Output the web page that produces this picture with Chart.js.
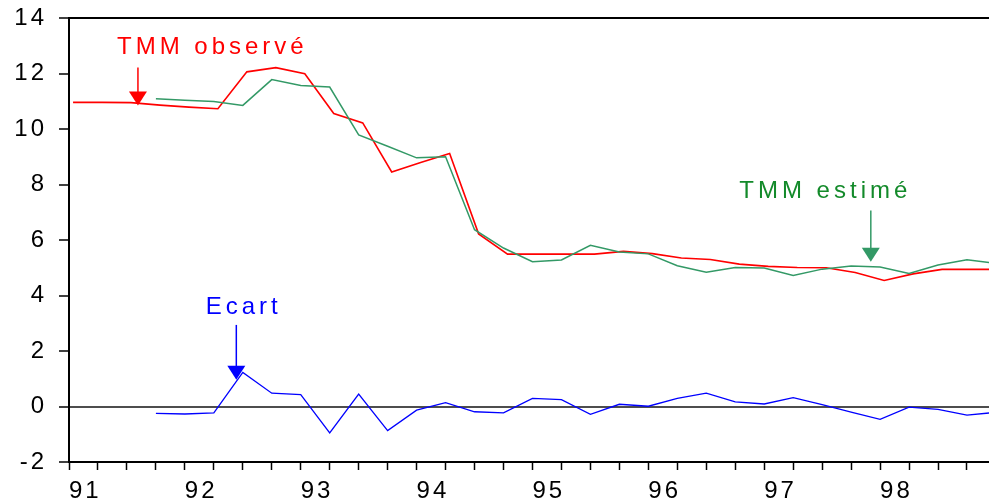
<!DOCTYPE html>
<html>
<head>
<meta charset="utf-8">
<script src="https://cdn.jsdelivr.net/npm/chart.js@4/dist/chart.umd.min.js"></script>
<style>
  html, body { margin: 0; padding: 0; background: #fff; }
</style>
</head>
<body>
<canvas id="chart" width="989" height="504"></canvas>
<script>
// Quarterly series, first quarter = 91 Q1
const firstYear = 91;
const observedLag = 0.035;   // observed rate plotted slightly after the quarter mark
const estimStart = 3;        // estimated series starts at 91 Q4

const tmmObserve = [10.96, 10.96, 10.95, 10.86, 10.79, 10.73, 12.06, 12.21, 11.99, 10.56, 10.22,
    8.45, 8.79, 9.12, 6.22, 5.49, 5.49, 5.49, 5.49, 5.59, 5.51, 5.35, 5.30, 5.13, 5.05,
    5.01, 5.00, 4.83, 4.54, 4.78, 4.94, 4.94, 4.94];
const tmmEstime = [11.09, 11.04, 10.99, 10.85, 11.78, 11.57, 11.51, 9.79, 9.38, 8.96, 9.00,
    6.37, 5.71, 5.22, 5.28, 5.81, 5.57, 5.50, 5.07, 4.84, 5.01, 4.99, 4.72, 4.95, 5.06,
    5.03, 4.79, 5.10, 5.29, 5.16];
const ecart = [-0.25, -0.27, -0.23, 1.23, 0.48, 0.43, -0.95, 0.45, -0.87, -0.13, 0.14,
    -0.19, -0.23, 0.29, 0.25, -0.28, 0.08, 0.01, 0.29, 0.48, 0.17, 0.09, 0.32, 0.07, -0.20,
    -0.46, -0.02, -0.10, -0.31, -0.21];
const yTicks = [-2, 0, 2, 4, 6, 8, 10, 12, 14];

const FONT = 'Liberation Sans, Arial, sans-serif';

const toPoints = (values, start, lag) =>
    values.map((v, i) => ({ x: firstYear + (start + i) / 4 + lag, y: v }));

// Labels with arrows (data units)
const notes = [
    { text: 'TMM observé', color: '#ff0000', arrow: '#ff0000', tx: 92.22, ty: 12.94, ax: 91.595, from: 12.22, to: 10.85 },
    { text: 'TMM estimé', color: '#138a2a', arrow: '#339966', tx: 97.51, ty: 7.74, ax: 97.92, from: 7.06, to: 5.22 },
    { text: 'Ecart', color: '#0000ff', arrow: '#0000ff', tx: 92.49, ty: 3.56, ax: 92.444, from: 2.94, to: 0.96 }
];

const spacingPlugin = {
    id: 'spacing',
    beforeUpdate(chart) { chart.ctx.letterSpacing = '3px'; },
    beforeDraw(chart) { chart.ctx.letterSpacing = '3px'; }
};

const notesPlugin = {
    id: 'notes',
    afterDatasetsDraw(chart) {
        const { ctx, scales: { x, y } } = chart;
        ctx.save();
        ctx.letterSpacing = '4px';
        ctx.font = '24px ' + FONT;
        ctx.textAlign = 'center';
        ctx.textBaseline = 'middle';
        notes.forEach(n => {
            ctx.fillStyle = n.color;
            ctx.fillText(n.text, x.getPixelForValue(n.tx) + 2, y.getPixelForValue(n.ty));
            const px = x.getPixelForValue(n.ax);
            const y0 = y.getPixelForValue(n.from);
            const y1 = y.getPixelForValue(n.to);
            ctx.strokeStyle = n.arrow;
            ctx.lineWidth = 1.5;
            ctx.beginPath();
            ctx.moveTo(px, y0);
            ctx.lineTo(px, y1 - 10);
            ctx.stroke();
            ctx.fillStyle = n.arrow;
            ctx.beginPath();
            ctx.moveTo(px - 9, y1 - 14);
            ctx.lineTo(px + 9, y1 - 14);
            ctx.lineTo(px, y1);
            ctx.closePath();
            ctx.fill();
        });
        ctx.restore();
    }
};

new Chart(document.getElementById('chart').getContext('2d'), {
    type: 'line',
    data: {
        datasets: [
            {
                label: 'Ecart',
                data: toPoints(ecart, estimStart, 0),
                borderColor: '#0000ff',
                borderWidth: 1.3,
                pointRadius: 0,
                tension: 0
            },
            {
                label: 'TMM estimé',
                data: toPoints(tmmEstime, estimStart, 0),
                borderColor: '#339966',
                borderWidth: 1.5,
                pointRadius: 0,
                tension: 0
            },
            {
                label: 'TMM observé',
                data: toPoints(tmmObserve, 0, observedLag),
                borderColor: '#ff0000',
                borderWidth: 1.6,
                pointRadius: 0,
                tension: 0
            }
        ]
    },
    options: {
        responsive: false,
        animation: false,
        layout: { padding: { top: 18, right: 0, left: 0, bottom: 0 } },
        plugins: {
            legend: { display: false },
            tooltip: { enabled: false }
        },
        scales: {
            x: {
                type: 'linear',
                position: 'bottom',
                min: 91,
                max: 98.94,
                ticks: {
                    stepSize: 0.25,
                    autoSkip: false,
                    includeBounds: false,
                    maxRotation: 0,
                    align: 'start',
                    padding: 7,
                    color: '#000',
                    font: { family: FONT, size: 24 },
                    callback: (v) => Number.isInteger(v) ? String(v) : ''
                },
                grid: {
                    drawOnChartArea: false,
                    tickLength: 8,
                    tickColor: '#000',
                    tickWidth: 1.5
                },
                border: { color: '#000', width: 2 },
                afterFit: (s) => { s.height = 42; s.paddingLeft = 0; s.paddingRight = 0; }
            },
            x2: {
                type: 'linear',
                position: 'top',
                min: 91,
                max: 98.94,
                ticks: { display: false },
                grid: { display: false },
                border: { display: true, color: '#000', width: 2 },
                afterFit: (s) => { s.height = 0; s.paddingLeft = 0; s.paddingRight = 0; }
            },
            y: {
                min: yTicks[0],
                max: yTicks[yTicks.length - 1],
                afterBuildTicks: (s) => { s.ticks = yTicks.map(v => ({ value: v })); },
                ticks: {
                    padding: 12,
                    color: '#000',
                    font: { family: FONT, size: 24 }
                },
                grid: {
                    color: (c) => c.tick && c.tick.value === 0 ? '#4d4d4d' : 'transparent',
                    lineWidth: (c) => c.tick && c.tick.value === 0 ? 2 : 0,
                    tickColor: '#000',
                    tickLength: 10,
                    tickWidth: 1.5
                },
                border: { color: '#000', width: 2 },
                afterFit: (s) => { s.width = 69; s.paddingTop = 0; s.paddingBottom = 0; }
            }
        }
    },
    plugins: [spacingPlugin, notesPlugin]
});
</script>
</body>
</html>
